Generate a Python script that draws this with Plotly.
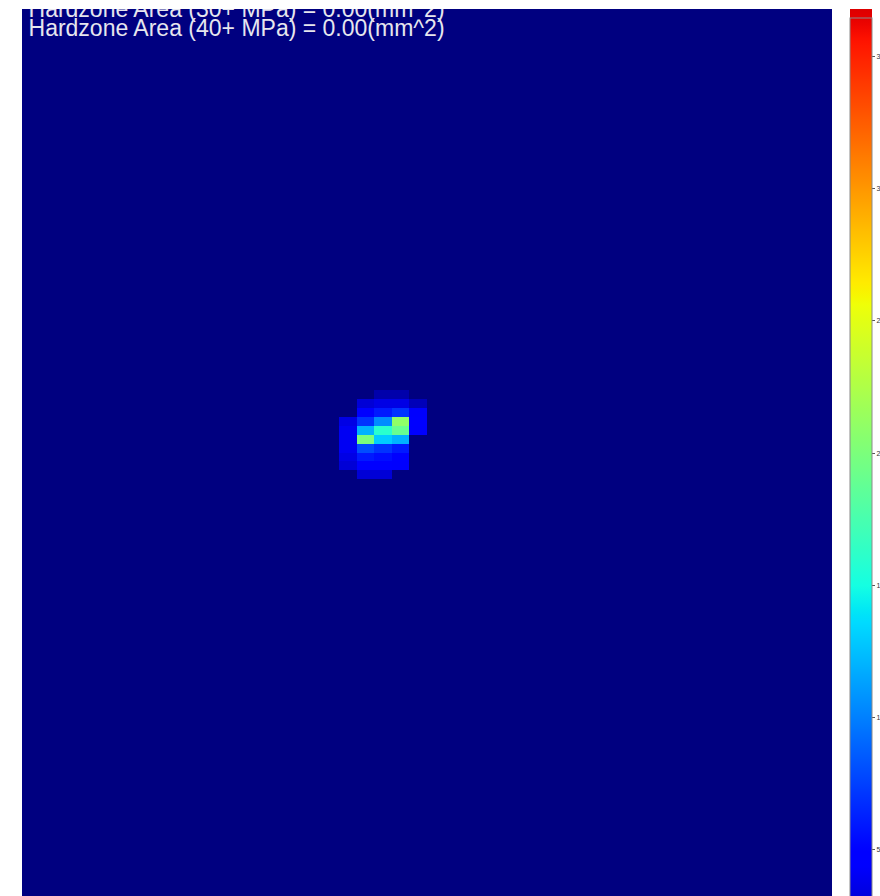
import numpy as np
import plotly.graph_objects as go

# ---- data ----
n_cols = 46
n_rows = 100
cell_cols = [20, 21,
             19, 20, 21, 22,
             19, 20, 21, 22,
             18, 19, 20, 21, 22,
             18, 19, 20, 21, 22,
             18, 19, 20, 21,
             18, 19, 20, 21,
             18, 19, 20, 21,
             18, 19, 20, 21,
             19, 20]
cell_rows = [43, 43,
             44, 44, 44, 44,
             45, 45, 45, 45,
             46, 46, 46, 46, 46,
             47, 47, 47, 47, 47,
             48, 48, 48, 48,
             49, 49, 49, 49,
             50, 50, 50, 50,
             51, 51, 51, 51,
             52, 52]
cell_values = [1.5, 1.5,
               3.0, 3.5, 3.5, 2.0,
               5.0, 6.0, 7.0, 4.5,
               3.5, 7.0, 10.5, 21.0, 5.0,
               4.0, 12.0, 16.0, 19.0, 4.5,
               4.0, 20.0, 13.0, 12.0,
               4.0, 8.0, 7.0, 6.0,
               3.5, 6.0, 5.5, 5.0,
               3.0, 5.0, 5.0, 4.5,
               3.0, 3.0]
z_min, z_max = 0.0, 40.0
cbar_min, cbar_max = 3.26, 36.8
cbar_ticks = [5, 10, 15, 20, 25, 30, 35]
label_texts = ["Hardzone Area (30+ MPa) = 0.00(mm^2)",
               "Hardzone Area (40+ MPa) = 0.00(mm^2)"]
label_rows = [0.2, 2.45]


def jet(f):
    f = np.clip(f, 0, 1)
    r = np.interp(f, [0, 0.35, 0.66, 0.89, 1], [0, 0, 1, 1, 0.5])
    g = np.interp(f, [0, 0.125, 0.375, 0.64, 0.91, 1], [0, 0, 1, 1, 0, 0])
    b = np.interp(f, [0, 0.11, 0.34, 0.65, 1], [0.5, 1, 1, 0, 0])
    return "rgb(%d,%d,%d)" % (round(r * 255), round(g * 255), round(b * 255))


def scale_between(lo, hi, n=121):
    fs = np.linspace(lo, hi, n)
    return [[i / (n - 1), jet(f)] for i, f in enumerate(fs)]


full_scale = scale_between(0, 1)
cbar_scale = scale_between(cbar_min / z_max, cbar_max / z_max)

z = np.zeros((n_rows, n_cols))
for c, r, v in zip(cell_cols, cell_rows, cell_values):
    z[r, c] = v

x_centers = np.arange(n_cols) + 0.5
y_centers = np.arange(n_rows) + 0.5

fig = go.Figure()
fig.add_trace(go.Heatmap(
    z=z, x=x_centers, y=y_centers,
    zmin=z_min, zmax=z_max, colorscale=full_scale,
    showscale=False, hoverinfo="skip"))

fig.add_trace(go.Scatter(
    x=[None, None], y=[None, None], mode="markers", hoverinfo="skip",
    marker=dict(color=[cbar_min, cbar_max], cmin=cbar_min, cmax=cbar_max,
                colorscale=cbar_scale, showscale=True,
                colorbar=dict(
                    xref="container", x=850 / 880, xanchor="left", xpad=0,
                    yref="container", y=1 - 9 / 896, yanchor="top", ypad=0,
                    lenmode="pixels", len=887,
                    thicknessmode="pixels", thickness=22,
                    outlinewidth=1, outlinecolor="#8a8a8a",
                    ticks="outside", ticklen=3, tickwidth=1, tickcolor="#555",
                    tickvals=cbar_ticks,
                    tickfont=dict(size=7, color="#333", family="Liberation Sans"),
                )),
    showlegend=False))

fig.add_trace(go.Scatter(
    x=[0.37, 0.37], y=label_rows, mode="text", text=label_texts,
    textposition="middle right", cliponaxis=True,
    textfont=dict(size=23, color="#e6e6ee", family="Liberation Sans, Arial"),
    hoverinfo="skip", showlegend=False))

fig.update_layout(
    width=880, height=896,
    margin=dict(l=22, r=48, t=9, b=0, autoexpand=False),
    paper_bgcolor="white", plot_bgcolor="rgb(0,0,128)",
    xaxis=dict(range=[0, n_cols], visible=False, fixedrange=True),
    yaxis=dict(range=[n_rows, 0], visible=False, fixedrange=True),
    showlegend=False,
)

fig.write_html("out.html")
